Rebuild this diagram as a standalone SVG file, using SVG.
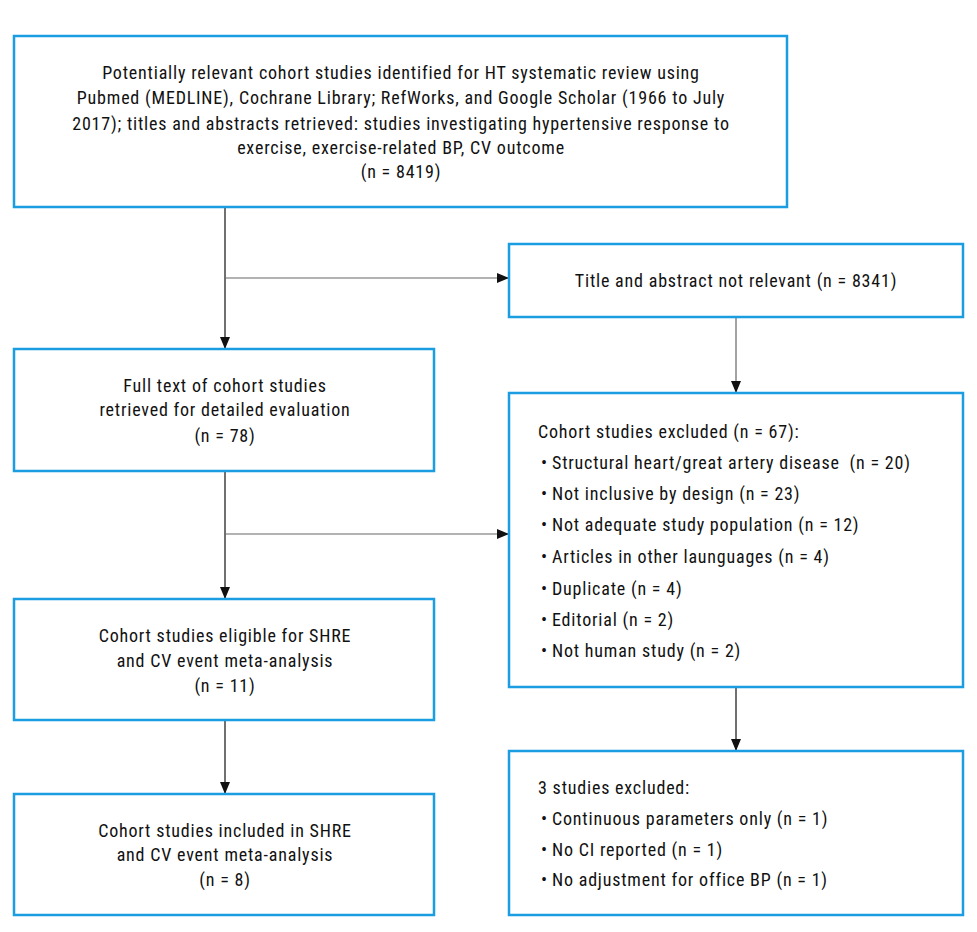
<svg xmlns="http://www.w3.org/2000/svg" width="977" height="932" viewBox="0 0 977 932">
<style>
.box{fill:#fff;stroke:#1b9de2;stroke-width:2.5}
text{font-family:"Liberation Sans Narrow","Roboto Condensed","Liberation Sans",sans-serif;font-size:18px;letter-spacing:0.8px;fill:#111}
.c{text-anchor:middle}
.ln{stroke:#111;stroke-width:1.2;fill:none}
.lg{stroke:#666;stroke-width:1.2;fill:none}
</style>
<defs>
<marker id="ah" markerWidth="12" markerHeight="12" refX="11" refY="5" orient="auto" markerUnits="userSpaceOnUse" viewBox="0 0 12 10">
<path d="M0,0 L12,5 L0,10 Z" fill="#111"/>
</marker>
</defs>
<rect width="977" height="932" fill="#fff"/>
<g id="connectors">
<path class="ln" d="M225,207 V348" marker-end="url(#ah)"/>
<path class="lg" d="M225,278 H508" marker-end="url(#ah)"/>
<path class="lg" d="M736,317 V392" marker-end="url(#ah)"/>
<path class="ln" d="M225,471 V598" marker-end="url(#ah)"/>
<path class="lg" d="M225,534 H508" marker-end="url(#ah)"/>
<path class="ln" d="M225,720 V793" marker-end="url(#ah)"/>
<path class="ln" d="M736,687 V750" marker-end="url(#ah)"/>
</g>
<g id="identified">
<rect class="box" x="14" y="36" width="773" height="171"/>
<text class="c" x="401" y="79">Potentially relevant cohort studies identified for HT systematic review using</text>
<text class="c" x="401" y="104">Pubmed (MEDLINE), Cochrane Library; RefWorks, and Google Scholar (1966 to July</text>
<text class="c" x="401" y="130">2017); titles and abstracts retrieved: studies investigating hypertensive response to</text>
<text class="c" x="401" y="154">exercise, exercise-related BP, CV outcome</text>
<text class="c" x="401" y="178">(n = 8419)</text>
</g>
<g id="notrelevant">
<rect class="box" x="509" y="244" width="454" height="73"/>
<text class="c" x="736" y="287">Title and abstract not relevant (n = 8341)</text>
</g>
<g id="fulltext">
<rect class="box" x="14" y="349" width="420" height="122"/>
<text class="c" x="225" y="392">Full text of cohort studies</text>
<text class="c" x="225" y="416">retrieved for detailed evaluation</text>
<text class="c" x="225" y="442">(n = 78)</text>
</g>
<g id="excluded">
<rect class="box" x="509" y="393" width="454" height="294"/>
<text x="538" y="438">Cohort studies excluded (n = 67):</text>
<text x="541" y="469">•</text><text x="552" y="469">Structural heart/great artery disease&#160; (n = 20)</text>
<text x="541" y="500">•</text><text x="552" y="500">Not inclusive by design (n = 23)</text>
<text x="541" y="531">•</text><text x="552" y="531">Not adequate study population (n = 12)</text>
<text x="541" y="563">•</text><text x="552" y="563">Articles in other launguages (n = 4)</text>
<text x="541" y="595">•</text><text x="552" y="595">Duplicate (n = 4)</text>
<text x="541" y="626">•</text><text x="552" y="626">Editorial (n = 2)</text>
<text x="541" y="657">•</text><text x="552" y="657">Not human study (n = 2)</text>
</g>
<g id="eligible">
<rect class="box" x="14" y="599" width="420" height="121"/>
<text class="c" x="225" y="642">Cohort studies eligible for SHRE</text>
<text class="c" x="225" y="667">and CV event meta-analysis</text>
<text class="c" x="225" y="692">(n = 11)</text>
</g>
<g id="threeexcluded">
<rect class="box" x="509" y="751" width="454" height="164"/>
<text x="538" y="794">3 studies excluded:</text>
<text x="541" y="825">•</text><text x="552" y="825">Continuous parameters only (n = 1)</text>
<text x="541" y="856">•</text><text x="552" y="856">No CI reported (n = 1)</text>
<text x="541" y="886">•</text><text x="552" y="886">No adjustment for office BP (n = 1)</text>
</g>
<g id="included">
<rect class="box" x="14" y="794" width="420" height="121"/>
<text class="c" x="225" y="837">Cohort studies included in SHRE</text>
<text class="c" x="225" y="861">and CV event meta-analysis</text>
<text class="c" x="225" y="886">(n = 8)</text>
</g>
</svg>
